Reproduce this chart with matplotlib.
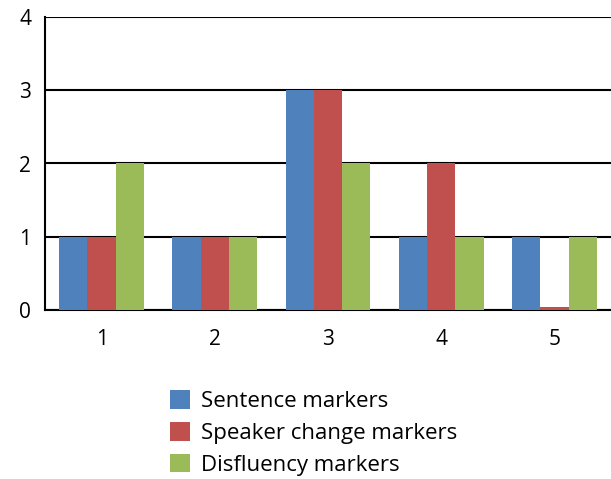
import numpy as np
import matplotlib.pyplot as plt

plt.rcParams['font.family'] = ['Open Sans', 'DejaVu Sans']

categories = ['1', '2', '3', '4', '5']
sentence = [1, 1, 3, 1, 1]
speaker = [1, 1, 3, 2, 0.04]
disfluency = [2, 1, 2, 1, 1]

fig = plt.figure(figsize=(6.11, 4.79), dpi=100)
ax = fig.add_axes([45 / 611, 169 / 479, 566 / 611, 293 / 479])

x = np.arange(1, len(categories) + 1)
w = 0.25
ax.bar(x - w, sentence, w, color='#4F81BD', label='Sentence markers', zorder=3)
ax.bar(x, speaker, w, color='#C0504D', label='Speaker change markers', zorder=3)
ax.bar(x + w, disfluency, w, color='#9BBB59', label='Disfluency markers', zorder=3)

ax.set_xlim(0.5, 5.5)
ax.set_ylim(0, 4)
ax.set_yticks([0, 1, 2, 3, 4])
ax.set_xticks(x)
ax.set_xticklabels(categories)
ax.tick_params(axis='both', length=0, labelsize=15)
ax.tick_params(axis='y', pad=10)
ax.tick_params(axis='x', pad=14)
ax.yaxis.grid(True, color='black', linewidth=1.5, zorder=1)
for s in ['top', 'right']:
    ax.spines[s].set_visible(False)
for s in ['left', 'bottom']:
    ax.spines[s].set_linewidth(1.5)

fig.legend(loc='center left', bbox_to_anchor=(0.278, 0.096), frameon=False,
           fontsize=16, handlelength=0.9, handleheight=0.9, handletextpad=0.5,
           labelspacing=0.45, borderaxespad=0, borderpad=0)

fig.savefig('out.png', dpi=100)
